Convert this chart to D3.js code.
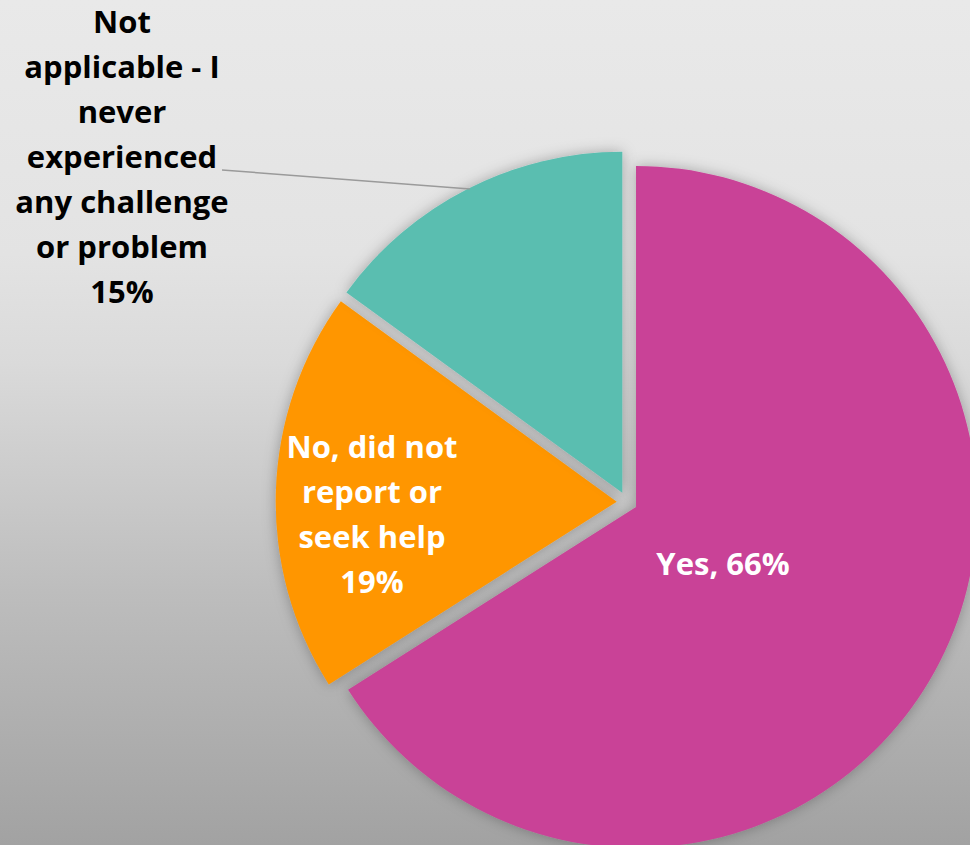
<!DOCTYPE html>
<html>
<head>
<meta charset="utf-8">
<script src="https://cdn.jsdelivr.net/npm/d3@7"></script>
<style>
  html, body { margin: 0; padding: 0; }
  body { width: 970px; height: 845px; overflow: hidden; }
  text { font-family: "Open Sans", Lato, sans-serif; font-weight: bold; }
</style>
</head>
<body>
<svg id="chart" width="970" height="845"></svg>
<script>
const categories = ["Yes", "No, did not report or seek help", "Not applicable - I never experienced any challenge or problem"];
const values = [66, 19, 15];
const colors = ["#C94397", "#FF9600", "#5ABEB0"];
const labelLines = [
  ["Yes, 66%"],
  ["No, did not", "report or", "seek help", "19%"],
  ["Not", "applicable - I", "never", "experienced", "any challenge", "or problem", "15%"]
];

const W = 970, H = 845;
const cx = 627, cy = 502, R = 341, explode = 10.3;

const svg = d3.select("#chart");
const defs = svg.append("defs");
const grad = defs.append("linearGradient").attr("id", "bg").attr("x1", 0).attr("y1", 0).attr("x2", 0).attr("y2", 1);
[[0, "#e9e9e9"], [0.3, "#e3e3e3"], [0.43, "#dadada"], [0.7, "#bdbdbd"], [1, "#a2a2a2"]]
  .forEach(([o, c]) => grad.append("stop").attr("offset", o).attr("stop-color", c));

const f = defs.append("filter").attr("id", "shadow").attr("x", "-20%").attr("y", "-20%").attr("width", "140%").attr("height", "140%");
f.append("feDropShadow").attr("dx", 0).attr("dy", 0).attr("stdDeviation", 7)
  .attr("flood-color", "#000").attr("flood-opacity", 0.28);

svg.append("rect").attr("width", W).attr("height", H).attr("fill", "url(#bg)");

const pie = d3.pie().sort(null).value(d => d)(values);
const arc = d3.arc().innerRadius(0).outerRadius(R);

const g = svg.append("g").attr("transform", `translate(${cx},${cy})`);

function offset(d) {
  const a = (d.startAngle + d.endAngle) / 2;
  return [Math.sin(a) * explode, -Math.cos(a) * explode];
}

g.selectAll("path.slice").data(pie).join("path")
  .attr("class", "slice")
  .attr("transform", d => `translate(${offset(d)})`)
  .attr("d", arc)
  .attr("fill", (d, i) => colors[i])
  .attr("filter", "url(#shadow)");

// leader line for outside label
svg.append("polyline")
  .attr("points", "222,170 470,189")
  .attr("fill", "none").attr("stroke", "#9a9a9a").attr("stroke-width", 1.5);

const labelPos = [
  { x: 723, y: 575, color: "#ffffff" },
  { x: 372, y: 458, color: "#ffffff" },
  { x: 122, y: 33, color: "#000000" }
];
const lh = 45;
labelLines.forEach((lines, i) => {
  const t = svg.append("text")
    .attr("text-anchor", "middle")
    .attr("font-size", 31)
    .attr("fill", labelPos[i].color);
  lines.forEach((ln, j) => {
    t.append("tspan").attr("x", labelPos[i].x).attr("y", labelPos[i].y + j * lh).text(ln);
  });
});
</script>
</body>
</html>
